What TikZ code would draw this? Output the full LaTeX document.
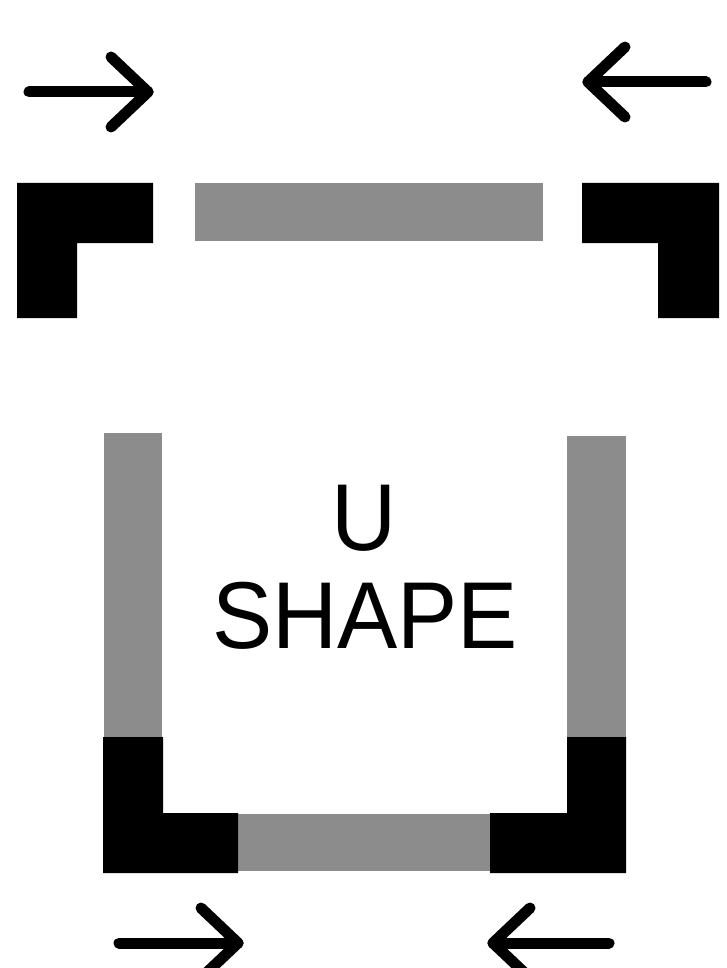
\documentclass[tikz,border=0pt]{standalone}
\usepackage{fontspec}
\newfontfamily\labelfont[FakeStretch=0.95]{Liberation Sans}
\definecolor{bargray}{RGB}{140,140,140}
\tikzset{
  solidpiece/.style={fill=black, draw=none},
  graypiece/.style={fill=bargray, draw=none},
  pusharrow/.style={line width=11pt, line cap=round, line join=round, black},
  biglabel/.style={font=\labelfont\fontsize{95}{98}\selectfont, inner sep=0pt, anchor=base}
}
\begin{document}
\begin{tikzpicture}[x=1pt, y=-1pt]
\useasboundingbox (0,0) rectangle (727,968);
% top row
\fill[solidpiece] (17,183) -- (153,183) -- (153,243) -- (77,243) -- (77,318) -- (17,318) -- cycle;
\fill[graypiece] (195,183) rectangle (543,241);
\fill[solidpiece] (582,183) -- (719,183) -- (719,318) -- (658,318) -- (658,243) -- (582,243) -- cycle;
% U shape
\fill[graypiece] (104,433) rectangle (162,737);
\fill[graypiece] (567,436) rectangle (626,737);
\fill[graypiece] (238,814) rectangle (490,871);
\fill[solidpiece] (103,737) -- (163,737) -- (163,813) -- (238,813) -- (238,873) -- (103,873) -- cycle;
\fill[solidpiece] (567,737) -- (626,737) -- (626,873) -- (490,873) -- (490,813) -- (567,813) -- cycle;
% labels
\node[biglabel] (u) at (364,550) {U};
\node[biglabel] (shape) at (365,648) {SHAPE};
% arrows top
\coordinate (tlTail) at (29,92);
\coordinate (tlTip) at (148,92);
\coordinate (tlA) at (111,57);
\coordinate (tlB) at (111,127);
\draw[pusharrow] (tlTail) -- (tlTip);
\draw[pusharrow] (tlA) -- (tlTip) -- (tlB);
\coordinate (trTail) at (706,82);
\coordinate (trTip) at (588,82);
\coordinate (trA) at (625,47);
\coordinate (trB) at (625,117);
\draw[pusharrow] (trTail) -- (trTip);
\draw[pusharrow] (trA) -- (trTip) -- (trB);
% arrows bottom
\coordinate (blTail) at (119,943);
\coordinate (blTip) at (238,943);
\coordinate (blA) at (201,908);
\coordinate (blB) at (201,978);
\draw[pusharrow] (blTail) -- (blTip);
\draw[pusharrow] (blA) -- (blTip) -- (blB);
\coordinate (brTail) at (609,943);
\coordinate (brTip) at (493,943);
\coordinate (brA) at (530,908);
\coordinate (brB) at (530,978);
\draw[pusharrow] (brTail) -- (brTip);
\draw[pusharrow] (brA) -- (brTip) -- (brB);
\end{tikzpicture}
\end{document}
